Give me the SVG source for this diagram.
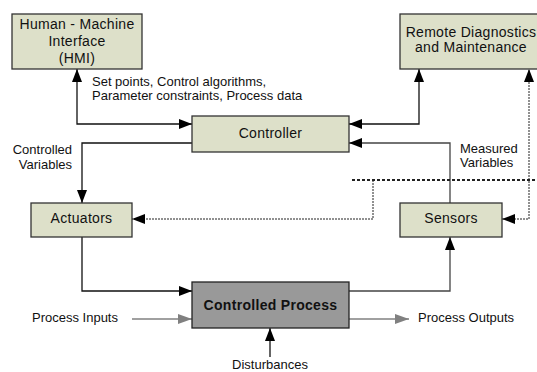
<svg xmlns="http://www.w3.org/2000/svg" width="537" height="372" viewBox="0 0 537 372">
<style>
.box{fill:#dde0c9;stroke:#333;stroke-width:1.3}
.proc{fill:#999;stroke:#222;stroke-width:1.3}
.bt{font-family:"Liberation Sans",Arial,sans-serif;font-size:14px;fill:#111;text-anchor:middle;letter-spacing:0.3px}
.lb{font-family:"Liberation Sans",Arial,sans-serif;font-size:13px;fill:#111}
.ln{fill:none;stroke:#111;stroke-width:1.3}
.ls{fill:none;stroke:#444;stroke-width:1.3}
.lg{fill:none;stroke:#808080;stroke-width:1.3}
.dot{fill:none;stroke:#222;stroke-width:1;stroke-dasharray:2 1}
.dash{fill:none;stroke:#222;stroke-width:2;stroke-dasharray:3 2}
</style>
<defs>
<marker id="ah" markerUnits="userSpaceOnUse" markerWidth="13" markerHeight="10" refX="13" refY="5" orient="auto-start-reverse"><path d="M0,0 L13,5 L0,10 z" fill="#000"/></marker>
<marker id="ag" markerUnits="userSpaceOnUse" markerWidth="14" markerHeight="10" refX="14" refY="5" orient="auto"><path d="M0,0 L14,5 L0,10 z" fill="#808080"/></marker>
</defs>
<g id="connectors">
<path class="ln" d="M77,69 V124 H192" marker-start="url(#ah)" marker-end="url(#ah)"/>
<path class="ln" d="M419,69 V124 H349" marker-start="url(#ah)" marker-end="url(#ah)"/>
<path class="ls" d="M450,203 V143 H349" marker-end="url(#ah)"/>
<path class="ln" d="M192,143 H82 V203" marker-end="url(#ah)"/>
<path class="ln" d="M82,237 V291 H192" marker-end="url(#ah)"/>
<path class="ls" d="M349,291 H450 V237" marker-end="url(#ah)"/>
<path class="ln" d="M270,357 V328" marker-end="url(#ah)"/>
<path class="lg" d="M132,319 H192" marker-end="url(#ag)"/>
<path class="lg" d="M349,319 H409" marker-end="url(#ag)"/>
<path class="dash" d="M352,180 H537"/>
<path class="dot" d="M373,180 V219 H132" marker-end="url(#ah)"/>
<path class="dot" d="M502,219 H529 V69" marker-start="url(#ah)" marker-end="url(#ah)"/>
</g>
<g id="hmi">
<rect class="box" x="12" y="14" width="130" height="55"/>
<text class="bt" x="77" y="29">Human - Machine</text>
<text class="bt" x="77" y="46">Interface</text>
<text class="bt" x="77" y="63">(HMI)</text>
</g>
<g id="remote">
<rect class="box" x="400" y="14" width="142" height="55"/>
<text class="bt" x="471" y="36.5">Remote Diagnostics</text>
<text class="bt" x="471" y="52">and Maintenance</text>
</g>
<g id="controller">
<rect class="box" x="192" y="116" width="157" height="36"/>
<text class="bt" x="270.5" y="138">Controller</text>
</g>
<g id="actuators">
<rect class="box" x="31" y="203" width="101" height="34"/>
<text class="bt" x="81.5" y="223">Actuators</text>
</g>
<g id="sensors">
<rect class="box" x="400" y="203" width="102" height="34"/>
<text class="bt" x="451" y="223">Sensors</text>
</g>
<g id="process">
<rect class="proc" x="192" y="282" width="157" height="46"/>
<text class="bt" x="270.5" y="310" font-weight="bold" font-size="14.5">Controlled Process</text>
</g>
<g id="labels">
<text class="lb" x="92" y="86">Set points, Control algorithms,</text>
<text class="lb" x="92" y="100">Parameter constraints, Process data</text>
<text class="lb" x="72" y="154" text-anchor="end">Controlled</text>
<text class="lb" x="72" y="169" text-anchor="end">Variables</text>
<text class="lb" x="460" y="153">Measured</text>
<text class="lb" x="460" y="167">Variables</text>
<text class="lb" x="32" y="322">Process Inputs</text>
<text class="lb" x="418" y="322">Process Outputs</text>
<text class="lb" x="270" y="369" text-anchor="middle">Disturbances</text>
</g>
</svg>
